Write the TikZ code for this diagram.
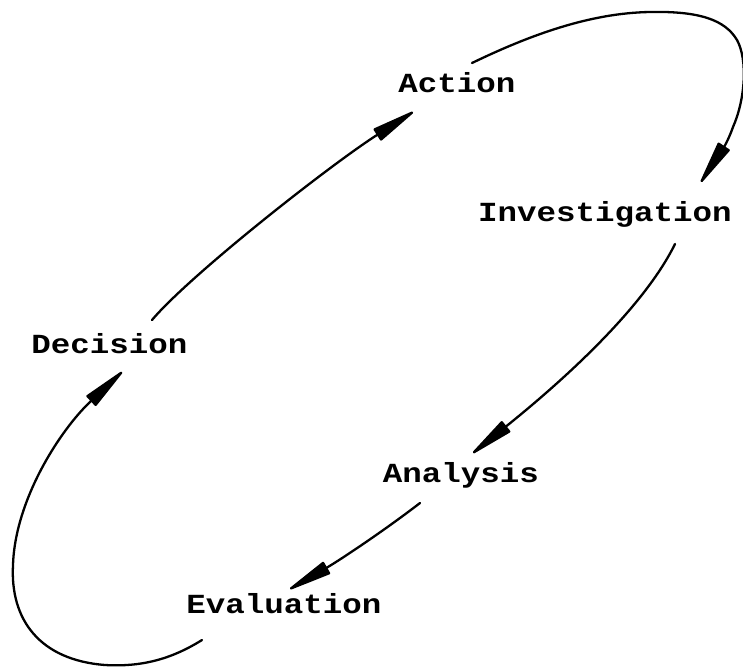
\documentclass[tikz,border=0pt]{standalone}
\usepackage{fontspec}
\setmonofont{Liberation Mono}
\usetikzlibrary{arrows.meta}
\begin{document}
\begin{tikzpicture}[x=1pt,y=-1pt,
  lbl/.style={anchor=base, inner sep=0pt,
    font=\ttfamily\bfseries\fontsize{32.5}{32}\selectfont},
  flow/.style={line width=2.3pt, line cap=round,
    -{Triangle[length=50pt,width=14pt,round]}}]
\useasboundingbox (0,0) rectangle (743,668);

% stages of the cycle
\node[lbl] (act) at (457,93)    {\scalebox{1}[0.85]{Action}};
\node[lbl] (inv) at (605,222)   {\scalebox{1}[0.85]{Investigation}};
\node[lbl] (dec) at (109.5,353) {\scalebox{1}[0.85]{Decision}};
\node[lbl] (ana) at (461,482)   {\scalebox{1}[0.85]{Analysis}};
\node[lbl] (eva) at (284,613)   {\scalebox{1}[0.85]{Evaluation}};

% Decision -> Action
\draw[flow] ([shift={(42.5,-33)}]dec.base)
  .. controls (190,275) and (330,165) .. ([shift={(-44,19)}]act.base);

% Action -> Investigation, looping over the top right
\draw[flow] ([shift={(15,-30)}]act.base)
  .. controls (530,35) and (590,13) .. (650,12)
  .. controls (700,11) and (725,20) .. (737,40)
  .. controls (748,60) and (745,100) .. (733,127)
  .. controls (725,150) and (712,165) .. ([shift={(96,-40)}]inv.base);

% Investigation -> Analysis
\draw[flow] ([shift={(70,22)}]inv.base)
  .. controls (645,305) and (570,375) .. ([shift={(12,-29)}]ana.base);

% Analysis -> Evaluation
\draw[flow] ([shift={(-41,21)}]ana.base)
  .. controls (385,530) and (340,560) .. ([shift={(6,-24)}]eva.base);

% Evaluation -> Decision, looping round the bottom left
\draw[flow] ([shift={(-82,27)}]eva.base)
  .. controls (170,660) and (140,667) .. (105,665)
  .. controls (40,660) and (10,620) .. (13,565)
  .. controls (15,500) and (60,430) .. ([shift={(12.5,19)}]dec.base);
\end{tikzpicture}
\end{document}
